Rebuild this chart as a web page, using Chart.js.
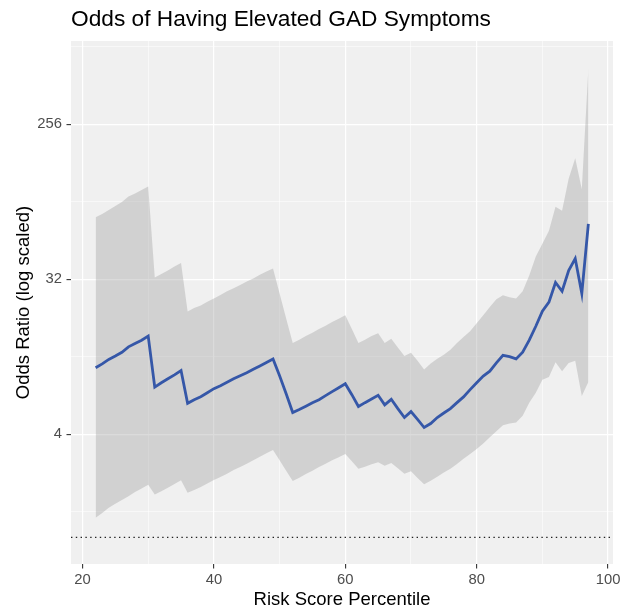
<!DOCTYPE html>
<html>
<head>
<meta charset="utf-8">
<title>Odds of Having Elevated GAD Symptoms</title>
<script src="https://cdn.jsdelivr.net/npm/chart.js@4.4.1/dist/chart.umd.min.js"></script>
<style>
  html, body { margin: 0; padding: 0; background: #fff; }
  #wrap { width: 636px; height: 608px; }
</style>
</head>
<body>
<div id="wrap"><canvas id="chart" width="636" height="608"></canvas></div>
<script>
// Risk score percentile (x) and odds ratios
const percentiles = [22, 23, 24, 25, 26, 27, 28, 29, 30, 31, 32, 33, 34, 35, 36, 37, 38, 39, 40,
    41, 42, 43, 44, 45, 46, 47, 48, 49, 50, 51, 52, 53, 54, 55, 56, 57, 58, 59, 60,
    61, 62, 63, 64, 65, 66, 67, 68, 69, 70, 71, 72, 73, 74, 75, 76, 77, 78, 79, 80,
    81, 82, 83, 84, 85, 86, 87, 88, 89, 90, 91, 92, 93, 94, 95, 96, 97];

const oddsRatio = [9.74, 10.26, 10.9, 11.4, 12.0, 12.9, 13.5, 14.1, 14.9,
    7.52, 7.97, 8.4, 8.86, 9.39,
    6.05, 6.35, 6.61, 6.97, 7.36, 7.66, 8.02, 8.4, 8.75, 9.11, 9.54, 9.99, 10.47, 10.97,
    8.75, 6.88, 5.34, 5.56, 5.82, 6.10, 6.35, 6.70, 7.07, 7.45, 7.86,
    6.79, 5.79, 6.10, 6.40, 6.73, 5.92, 6.38, 5.63, 5.00, 5.41,
    4.87, 4.37, 4.61, 5.00, 5.31, 5.63, 6.10, 6.59, 7.26, 7.97,
    8.71, 9.31, 10.4, 11.5, 11.3, 10.97, 12.0, 14.1, 17.0, 20.8,
    23.5, 30.6, 27.2, 35.9, 42.2, 26.4, 67.2];

const upperCI = [73.5, 76.8, 81.0, 85.4, 90.1, 97.0, 101, 106, 111,
    32.7, 34.3, 35.9, 37.9, 39.8,
    20.7, 21.7, 22.5, 23.6, 24.7, 25.9, 27.2, 28.3, 29.6, 31.0, 32.3, 33.9, 35.5, 36.9,
    26.4, 18.9, 13.6, 14.2, 14.9, 15.6, 16.4, 17.1, 18.0, 18.8, 19.7,
    16.4, 13.6, 14.2, 14.9, 15.5, 13.6, 14.4, 12.8, 11.4, 11.9,
    10.7, 9.51, 10.3, 11.0, 11.6, 12.4, 13.6, 14.7, 15.9, 17.7,
    19.7, 22.0, 24.4, 25.8, 25.1, 24.7, 27.2, 33.6, 43.3, 51.5,
    61.3, 84.4, 80.0, 123, 162, 107, 538];

const lowerCI = [1.30, 1.39, 1.49, 1.57, 1.65, 1.74, 1.84, 1.93, 2.03,
    1.78, 1.86, 1.95, 2.05, 2.15,
    1.82, 1.89, 1.97, 2.06, 2.16, 2.25, 2.35, 2.47, 2.57, 2.69, 2.82, 2.95, 3.09, 3.23,
    2.82, 2.45, 2.13, 2.23, 2.34, 2.45, 2.57, 2.69, 2.82, 2.93, 3.06,
    2.78, 2.51, 2.58, 2.67, 2.74, 2.62, 2.71, 2.53, 2.35, 2.43,
    2.22, 2.04, 2.14, 2.26, 2.39, 2.51, 2.68, 2.87, 3.06, 3.28,
    3.53, 3.83, 4.15, 4.51, 4.61, 4.68, 5.11, 6.10, 6.97, 8.30,
    8.60, 10.5, 9.31, 10.4, 10.7, 6.67, 8.04];

// Axis breaks (log2 scale: minor breaks sit halfway between majors)
const xMajorTicks = [20, 40, 60, 80, 100];
const xMinorTicks = [30, 50, 70, 90];
const yMajorTicks = [4, 32, 256];
const yMinorTicks = [1.414, 11.31, 90.51, 724.1];
const referenceOdds = 1;

const FONT = "'Liberation Sans', Arial, sans-serif";
const PANEL_BG = '#f0f0f0';

function toPoints(values) {
    return percentiles.map((p, i) => ({ x: p, y: values[i] }));
}

// grey panel + white page
const panelPlugin = {
    id: 'panel',
    beforeDraw(chart) {
        const { ctx, chartArea: a } = chart;
        ctx.save();
        ctx.fillStyle = '#ffffff';
        ctx.fillRect(0, 0, chart.width, chart.height);
        ctx.fillStyle = PANEL_BG;
        ctx.fillRect(a.left, a.top, a.right - a.left, a.bottom - a.top);
        ctx.restore();
    }
};

// dotted line at odds ratio = 1
const refLinePlugin = {
    id: 'refLine',
    beforeDatasetsDraw(chart) {
        const { ctx, chartArea: a, scales } = chart;
        const y = scales.y.getPixelForValue(referenceOdds);
        ctx.save();
        ctx.strokeStyle = '#222222';
        ctx.lineWidth = 1.4;
        ctx.setLineDash([1.4, 3.4]);
        ctx.beginPath();
        ctx.moveTo(a.left, y);
        ctx.lineTo(a.right, y);
        ctx.stroke();
        ctx.restore();
    }
};

const isMajorX = v => xMajorTicks.includes(v);
const isMajorY = v => yMajorTicks.includes(v);

new Chart(document.getElementById('chart'), {
    type: 'line',
    data: {
        datasets: [
            {
                label: 'Odds ratio',
                data: toPoints(oddsRatio),
                borderColor: '#3557a8',
                borderWidth: 2.8,
                pointRadius: 0,
                fill: false,
                tension: 0
            },
            {
                label: 'Upper',
                data: toPoints(upperCI),
                borderWidth: 0,
                borderColor: 'rgba(0,0,0,0)',
                backgroundColor: 'rgba(153,153,153,0.35)',
                pointRadius: 0,
                fill: '+1',
                tension: 0
            },
            {
                label: 'Lower',
                data: toPoints(lowerCI),
                borderWidth: 0,
                borderColor: 'rgba(0,0,0,0)',
                pointRadius: 0,
                fill: false,
                tension: 0
            }
        ]
    },
    options: {
        responsive: false,
        animation: false,
        devicePixelRatio: 1,
        layout: { padding: { left: 0, right: 23, top: 0, bottom: 0 } },
        plugins: {
            legend: { display: false },
            tooltip: { enabled: false },
            title: {
                display: true,
                text: 'Odds of Having Elevated GAD Symptoms',
                align: 'start',
                fullSize: false,
                color: '#000000',
                font: { family: FONT, size: 22.7, weight: 'normal', lineHeight: 1.2 },
                padding: { top: 5.8, bottom: 8 }
            }
        },
        scales: {
            x: {
                type: 'linear',
                min: 18.25,
                max: 100.75,
                afterBuildTicks: s => { s.ticks = xMajorTicks.concat(xMinorTicks).map(v => ({ value: v })); },
                afterFit: s => { s.height = 44; },
                ticks: {
                    autoSkip: false,
                    maxRotation: 0,
                    padding: 2.1,
                    color: '#4d4d4d',
                    font: { family: FONT, size: 14.8, lineHeight: 1.2 },
                    callback: v => isMajorX(v) ? String(v) : ''
                },
                grid: {
                    color: '#ffffff',
                    lineWidth: c => isMajorX(c.tick.value) ? 1.2 : 0.55,
                    tickLength: 4.5,
                    tickWidth: 1.1,
                    tickColor: c => isMajorX(c.tick.value) ? '#333333' : 'rgba(0,0,0,0)'
                },
                border: { display: false },
                title: {
                    display: true,
                    text: 'Risk Score Percentile',
                    color: '#000000',
                    font: { family: FONT, size: 18.5, lineHeight: 0.9 },
                    padding: { top: 0, bottom: 0 }
                }
            },
            y: {
                type: 'logarithmic',
                min: 0.728,
                max: 781,
                afterBuildTicks: s => { s.ticks = yMinorTicks.concat(yMajorTicks).sort((a, b) => a - b).map(v => ({ value: v })); },
                afterFit: s => { s.width = 71; },
                ticks: {
                    autoSkip: false,
                    padding: 4.5,
                    color: '#4d4d4d',
                    font: { family: FONT, size: 14.8, lineHeight: 1.2 },
                    callback: v => isMajorY(v) ? String(v) : ''
                },
                grid: {
                    color: '#ffffff',
                    lineWidth: c => isMajorY(c.tick.value) ? 1.2 : 0.55,
                    tickLength: 4.5,
                    tickWidth: 1.1,
                    tickColor: c => isMajorY(c.tick.value) ? '#333333' : 'rgba(0,0,0,0)'
                },
                border: { display: false },
                title: {
                    display: true,
                    text: 'Odds Ratio (log scaled)',
                    color: '#000000',
                    font: { family: FONT, size: 18.5, lineHeight: 1.2 },
                    padding: { top: 12.5, bottom: 0 }
                }
            }
        }
    },
    plugins: [panelPlugin, refLinePlugin]
});
</script>
</body>
</html>
